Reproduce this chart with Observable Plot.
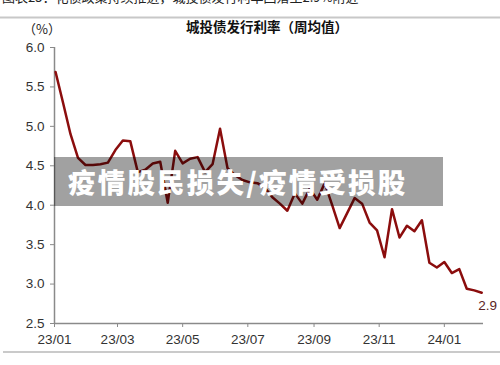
<!DOCTYPE html>
<html>
<head>
<meta charset="utf-8">
<script src="https://cdn.jsdelivr.net/npm/d3@7"></script>
<script src="https://cdn.jsdelivr.net/npm/@observablehq/plot@0.6"></script>
<style>
  html, body { margin: 0; padding: 0; background: #fff; }
  #chart { position: relative; width: 500px; height: 365px; overflow: hidden; }
</style>
</head>
<body>
<div id="chart"></div>
<script>
// ---- data ----
const weeks = [
  "2023-01-02","2023-01-09","2023-01-16","2023-01-23","2023-01-30",
  "2023-02-06","2023-02-13","2023-02-20","2023-02-27",
  "2023-03-06","2023-03-13","2023-03-20","2023-03-27",
  "2023-04-03","2023-04-10","2023-04-17","2023-04-24",
  "2023-05-01","2023-05-08","2023-05-15","2023-05-22","2023-05-29",
  "2023-06-05","2023-06-12","2023-06-19","2023-06-26",
  "2023-07-03","2023-07-10","2023-07-17","2023-07-24","2023-07-31",
  "2023-08-07","2023-08-14","2023-08-21","2023-08-28",
  "2023-09-04","2023-09-11","2023-09-18","2023-09-25",
  "2023-10-02","2023-10-09","2023-10-16","2023-10-23","2023-10-30",
  "2023-11-06","2023-11-13","2023-11-20","2023-11-27",
  "2023-12-04","2023-12-11","2023-12-18","2023-12-25",
  "2024-01-01","2024-01-08","2024-01-15","2024-01-22","2024-01-29",
  "2024-02-05"
];
const rates = [
  5.69, 5.30, 4.90, 4.60, 4.51,
  4.51, 4.52, 4.54, 4.70,
  4.82, 4.81, 4.42, 4.45,
  4.53, 4.55, 4.03, 4.69,
  4.53, 4.59, 4.61, 4.42, 4.52,
  4.97, 4.47, 4.38, 4.32,
  4.29, 4.28, 4.22, 4.10, 4.02,
  3.93, 4.15, 4.02, 4.21,
  4.07, 4.28, 4.00, 3.71,
  3.90, 4.09, 4.02, 3.78, 3.68,
  3.34, 3.95, 3.59, 3.74,
  3.67, 3.81, 3.27, 3.21,
  3.28, 3.14, 3.19, 2.94, 2.92,
  2.89
];
const yTicks = [2.5, 3.0, 3.5, 4.0, 4.5, 5.0, 5.5, 6.0];
const xTickLabels = ["23/01","23/03","23/05","23/07","23/09","23/11","24/01"];
const xDomain = ["2023-01-01", "2024-02-06T16:00"];
const endLabel = "2.9";
const titleText = "城投债发行利率（周均值）";
const unitText = "（%）";
const captionText = "图表25：化债政策持续推进，城投债发行利率回落至2.9%附近";
const bannerText = "疫情股民损失/疫情受损股";

// ---- build ----
const data = weeks.map((w, i) => ({date: new Date(w), rate: rates[i]}));
const parseLbl = d3.utcParse("%y/%m");
const xTicks = xTickLabels.map(s => parseLbl(s));
const last = data[data.length - 1];

const plot = Plot.plot({
  width: 500,
  height: 365,
  marginLeft: 54,
  marginRight: 17,
  marginTop: 47,
  marginBottom: 42,
  style: {fontFamily: "'Liberation Sans', Arial, sans-serif", fontSize: "13px", background: "#fff"},
  x: {type: "utc", domain: xDomain.map(s => new Date(s))},
  y: {domain: [2.5, 6.0]},
  marks: [
    Plot.ruleY([2.5], {stroke: "#8a8a8a", strokeWidth: 1.5}),
    Plot.ruleX([new Date(xDomain[0])], {stroke: "#8a8a8a", strokeWidth: 1.5}),
    Plot.axisY({ticks: yTicks, tickSize: 4, tickPadding: 6, tickFormat: d => d.toFixed(1),
      label: null, stroke: "#8a8a8a", fill: "#333", fontSize: 13.5}),
    Plot.axisX({ticks: xTicks, tickSize: 4, tickPadding: 7, tickFormat: d3.utcFormat("%y/%m"),
      label: null, stroke: "#8a8a8a", fill: "#333", fontSize: 13.5}),
    Plot.lineY(data, {x: "date", y: "rate", stroke: "#8b0d0d", strokeWidth: 2.5, strokeLinejoin: "round"}),
    Plot.text([last], {x: "date", y: "rate", text: () => endLabel, dx: 6, dy: 13,
      fill: "#5a2626", fontSize: 13.5, textAnchor: "middle"})
  ]
});
document.getElementById("chart").appendChild(plot);

// ---- decorations ----
const svg = d3.select(plot);
const cjk = "'Noto Sans CJK SC', sans-serif";
svg.append("text").attr("x", 2).attr("y", 1.5).attr("text-anchor", "start").attr("fill", "#222")
  .attr("font-family", cjk).attr("font-size", 13).text(captionText);
svg.append("line").attr("x1", 0).attr("x2", 500).attr("y1", 17.5).attr("y2", 17.5)
  .attr("stroke", "#c8c8c8").attr("stroke-width", 2);
svg.append("text").attr("x", 267).attr("y", 32).attr("text-anchor", "middle").attr("fill", "#111")
  .attr("font-family", cjk).attr("font-weight", 700).attr("font-size", 13.5).text(titleText);
svg.append("text").attr("x", 42).attr("y", 34).attr("text-anchor", "middle").attr("fill", "#222")
  .attr("font-family", cjk).attr("font-size", 13).text(unitText);
svg.append("line").attr("x1", 3).attr("x2", 500).attr("y1", 352).attr("y2", 352)
  .attr("stroke", "#b8b8b8").attr("stroke-width", 1.5);
svg.append("rect").attr("x", 54).attr("y", 157).attr("width", 389).attr("height", 49)
  .attr("fill", "rgba(0,0,0,0.37)");
svg.append("text").attr("x", 68).attr("y", 193).attr("text-anchor", "start").attr("fill", "#fff")
  .attr("font-family", cjk).attr("font-weight", 900).attr("font-size", 27.5)
  .attr("letter-spacing", 2.2).text(bannerText);
</script>
</body>
</html>
